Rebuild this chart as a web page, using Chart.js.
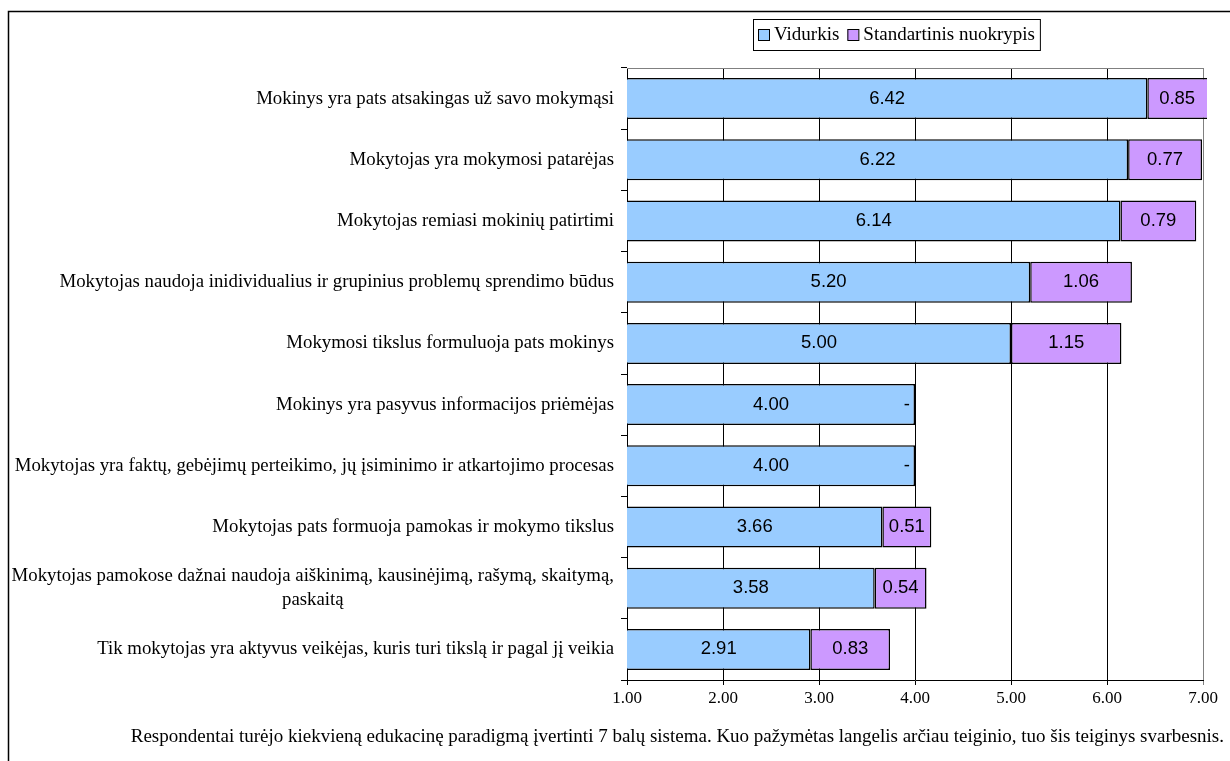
<!DOCTYPE html>
<html>
<head>
<meta charset="utf-8">
<title>Edukacinės paradigmos</title>
<script src="https://cdn.jsdelivr.net/npm/chart.js@4.4.1/dist/chart.umd.min.js"></script>
<style>
  html, body { margin: 0; padding: 0; background: #fff; }
  #wrap { width: 1230px; height: 761px; position: relative; }
</style>
</head>
<body>
<div id="wrap"><canvas id="chart-paradigmos"></canvas></div>
<script>
const teiginiai = [
  'Mokinys yra pats atsakingas už savo mokymąsi',
  'Mokytojas yra mokymosi patarėjas',
  'Mokytojas remiasi mokinių patirtimi',
  'Mokytojas naudoja inidividualius ir grupinius problemų sprendimo būdus',
  'Mokymosi tikslus formuluoja pats mokinys',
  'Mokinys yra pasyvus informacijos priėmėjas',
  'Mokytojas yra faktų, gebėjimų perteikimo, jų įsiminimo ir atkartojimo procesas',
  'Mokytojas pats formuoja pamokas ir mokymo tikslus',
  ['Mokytojas pamokose dažnai naudoja aiškinimą, kausinėjimą, rašymą, skaitymą,', 'paskaitą'],
  'Tik mokytojas yra aktyvus veikėjas, kuris turi tikslą ir pagal jį veikia'
];
const vidurkis = [6.42, 6.22, 6.14, 5.20, 5.00, 4.00, 4.00, 3.66, 3.58, 2.91];
const nuokrypis = [0.85, 0.77, 0.79, 1.06, 1.15, null, null, 0.51, 0.54, 0.83];
const xTicks = [1, 2, 3, 4, 5, 6, 7];
const pastaba = 'Respondentai turėjo kiekvieną edukacinę paradigmą įvertinti 7 balų sistema. Kuo pažymėtas langelis arčiau teiginio, tuo šis teiginys svarbesnis.';

const serif = "'Liberation Serif', 'Times New Roman', serif";
const sans = "'Liberation Sans', Arial, sans-serif";

// frame, plot border, category labels, legend and footnote
const decor = {
  id: 'decor',
  afterDraw(chart) {
    const { ctx, chartArea: { top, left, right }, scales: { y } } = chart;
    ctx.save();

    // outer frame (only left and top edges are inside the canvas)
    ctx.strokeStyle = '#000';
    ctx.lineWidth = 1.5;
    ctx.strokeRect(8.5, 11.5, 1400, 900);

    // grey plot border on top
    ctx.strokeStyle = '#808080';
    ctx.lineWidth = 1;
    ctx.beginPath();
    ctx.moveTo(left, top + 0.5);
    ctx.lineTo(right + 0.5, top + 0.5);
    ctx.stroke();

    // category labels
    ctx.font = `18.8px ${serif}`;
    ctx.fillStyle = '#000';
    ctx.textBaseline = 'middle';
    const labelRight = left - 13;
    const lineH = 24;
    teiginiai.forEach((label, i) => {
      const lines = Array.isArray(label) ? label : [label];
      const yc = y.getPixelForValue(i);
      const widest = Math.max(...lines.map(l => ctx.measureText(l).width));
      lines.forEach((line, k) => {
        const ly = yc - (lines.length - 1) * lineH / 2 + k * lineH;
        if (lines.length > 1) {
          ctx.textAlign = 'center';
          ctx.fillText(line, labelRight - widest / 2, ly);
        } else {
          ctx.textAlign = 'right';
          ctx.fillText(line, labelRight, ly);
        }
      });
    });

    // legend
    const lx = 753, ly = 19, lh = 31, sq = 11;
    ctx.font = `19px ${serif}`;
    ctx.textAlign = 'left';
    let x = lx + 5;
    chart.data.datasets.forEach((ds, i) => {
      ctx.fillStyle = ds.backgroundColor;
      ctx.fillRect(x, ly + 10, sq, sq);
      ctx.strokeStyle = '#000';
      ctx.lineWidth = 1;
      ctx.strokeRect(x + 0.5, ly + 10.5, sq, sq);
      x += sq + 5;
      ctx.fillStyle = '#000';
      ctx.fillText(ds.label, x, ly + lh / 2 + 1);
      x += ctx.measureText(ds.label).width + (i < chart.data.datasets.length - 1 ? 8 : 5);
    });
    ctx.strokeStyle = '#000';
    ctx.lineWidth = 1;
    ctx.strokeRect(lx + 0.5, ly + 0.5, x - lx, lh);

    // footnote
    ctx.font = `19px ${serif}`;
    ctx.textAlign = 'right';
    ctx.fillStyle = '#000';
    ctx.fillText(pastaba, 1224, 737);

    ctx.restore();
  }
};

// values written inside the bar segments
const barValues = {
  id: 'barValues',
  afterDatasetsDraw(chart) {
    const { ctx, chartArea: { left, right } } = chart;
    ctx.save();
    ctx.font = `18.5px ${sans}`;
    ctx.fillStyle = '#000';
    ctx.textAlign = 'center';
    ctx.textBaseline = 'middle';
    const meanBars = chart.getDatasetMeta(0).data;
    chart.data.datasets.forEach((ds, di) => {
      chart.getDatasetMeta(di).data.forEach((bar, i) => {
        const v = ds.data[i];
        if (v === null) {
          ctx.textAlign = 'right';
          ctx.fillText('-', meanBars[i].x - 5, meanBars[i].y);
          ctx.textAlign = 'center';
          return;
        }
        const x0 = Math.max(left, Math.min(bar.base, bar.x));
        const x1 = Math.min(right + 4, Math.max(bar.base, bar.x));
        ctx.fillText(v.toFixed(2), (x0 + x1) / 2, bar.y);
      });
    });
    ctx.restore();
  }
};

new Chart(document.getElementById('chart-paradigmos'), {
  type: 'bar',
  data: {
    labels: teiginiai,
    datasets: [{
      label: 'Vidurkis',
      data: vidurkis,
      backgroundColor: '#99CCFF',
      borderColor: '#000',
      borderWidth: 1.5,
      borderSkipped: false,
      barPercentage: 0.67,
      categoryPercentage: 1,
      clip: { left: 0, top: 0, right: 4, bottom: 0 }
    }, {
      label: 'Standartinis nuokrypis',
      data: nuokrypis,
      backgroundColor: '#CC99FF',
      borderColor: '#000',
      borderWidth: 1.5,
      borderSkipped: false,
      barPercentage: 0.67,
      categoryPercentage: 1,
      clip: { left: 0, top: 0, right: 4, bottom: 0 }
    }]
  },
  options: {
    indexAxis: 'y',
    responsive: true,
    maintainAspectRatio: false,
    animation: false,
    layout: { padding: { top: 68, right: 27, left: 0, bottom: 0 } },
    plugins: {
      legend: { display: false },
      tooltip: { enabled: false }
    },
    scales: {
      x: {
        type: 'linear',
        stacked: true,
        min: 1,
        max: 7,
        afterBuildTicks: scale => { scale.ticks = xTicks.map(v => ({ value: v })); },
        afterFit: scale => { scale.height = 81; },
        grid: {
          color: c => (c.tick && c.tick.value === 7 ? '#808080' : '#000'),
          lineWidth: 1,
          drawTicks: true,
          tickLength: 5
        },
        border: { display: true, color: '#000', width: 1 },
        ticks: {
          font: { family: serif, size: 17 },
          color: '#000',
          padding: 3,
          maxRotation: 0,
          callback: v => Number(v).toFixed(2)
        }
      },
      y: {
        type: 'category',
        stacked: true,
        offset: true,
        afterFit: scale => { scale.width = 627; },
        grid: {
          offset: true,
          drawOnChartArea: false,
          color: '#000',
          tickLength: 6
        },
        border: { display: true, color: '#000', width: 1 },
        ticks: { display: false }
      }
    }
  },
  plugins: [decor, barValues]
});
</script>
</body>
</html>
